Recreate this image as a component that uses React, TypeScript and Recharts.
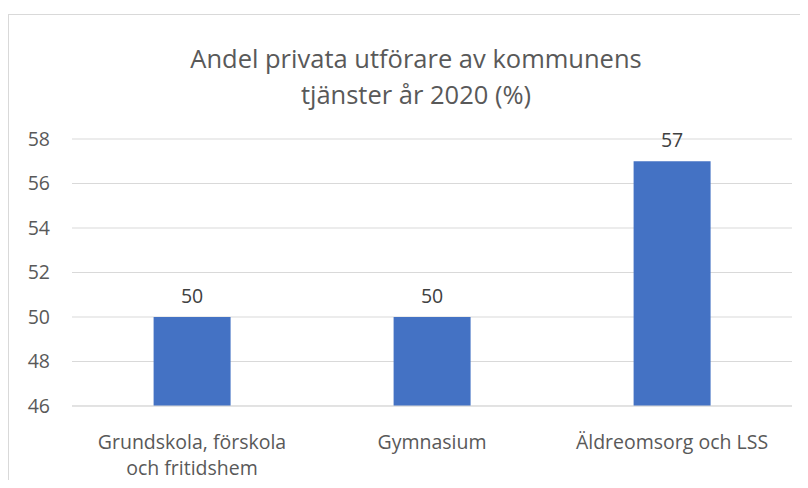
import React from 'react'
import { BarChart, Bar, XAxis, YAxis, CartesianGrid, LabelList } from 'recharts'

const categories = ['Grundskola, förskola\noch fritidshem', 'Gymnasium', 'Äldreomsorg och LSS']
const shares = [50, 50, 57]
const yTicks = [46, 48, 50, 52, 54, 56, 58]

const data = categories.map((name, i) => ({ name, value: shares[i] }))

const font = '"Open Sans", sans-serif'

const CategoryTick = (props: any) => {
  const { x, y, payload } = props
  const lines = String(payload.value).split('\n')
  return (
    <text x={x} y={y} textAnchor="middle" fill="#595959" fontSize={19.5} fontFamily={font}>
      {lines.map((line, i) => (
        <tspan key={i} x={x} dy={i === 0 ? 35 : 26}>
          {line}
        </tspan>
      ))}
    </text>
  )
}

const App: React.FC = () => {
  return (
    <div style={{ position: 'relative', width: 808, height: 488, margin: -8, overflow: 'hidden', background: '#fff' }}>
      <div
        style={{
          position: 'absolute',
          left: 8,
          top: 14,
          width: 900,
          height: 600,
          border: '1px solid #d9d9d9',
          boxSizing: 'border-box',
        }}
      />
      <div
        style={{
          position: 'absolute',
          left: 0,
          width: 832,
          top: 40,
          textAlign: 'center',
          fontFamily: font,
          fontSize: 25.5,
          lineHeight: '36px',
          color: '#595959',
        }}
      >
        Andel privata utförare av kommunens
        <br />
        tjänster år 2020 (%)
      </div>
      <div style={{ position: 'absolute', left: 0, top: 0 }}>
        <BarChart
          width={808}
          height={488}
          data={data}
          margin={{ top: 139, right: 16, bottom: 0, left: 22 }}
          barCategoryGap="34%"
        >
          <CartesianGrid vertical={false} stroke="#d9d9d9" strokeWidth={1} />
          <XAxis
            dataKey="name"
            height={82}
            axisLine={{ stroke: '#d9d9d9' }}
            tickLine={false}
            tick={<CategoryTick />}
            interval={0}
          />
          <YAxis
            domain={[46, 58]}
            ticks={yTicks}
            width={50}
            axisLine={false}
            tickLine={false}
            tickSize={0}
            tickMargin={22}
            tick={{ fill: '#595959', fontSize: 19.5, fontFamily: font }}
          />
          <Bar dataKey="value" fill="#4472C4" isAnimationActive={false}>
            <LabelList dataKey="value" position="top" offset={14} fill="#404040" fontSize={19.5} fontFamily={font} />
          </Bar>
        </BarChart>
      </div>
    </div>
  )
}

export default App
